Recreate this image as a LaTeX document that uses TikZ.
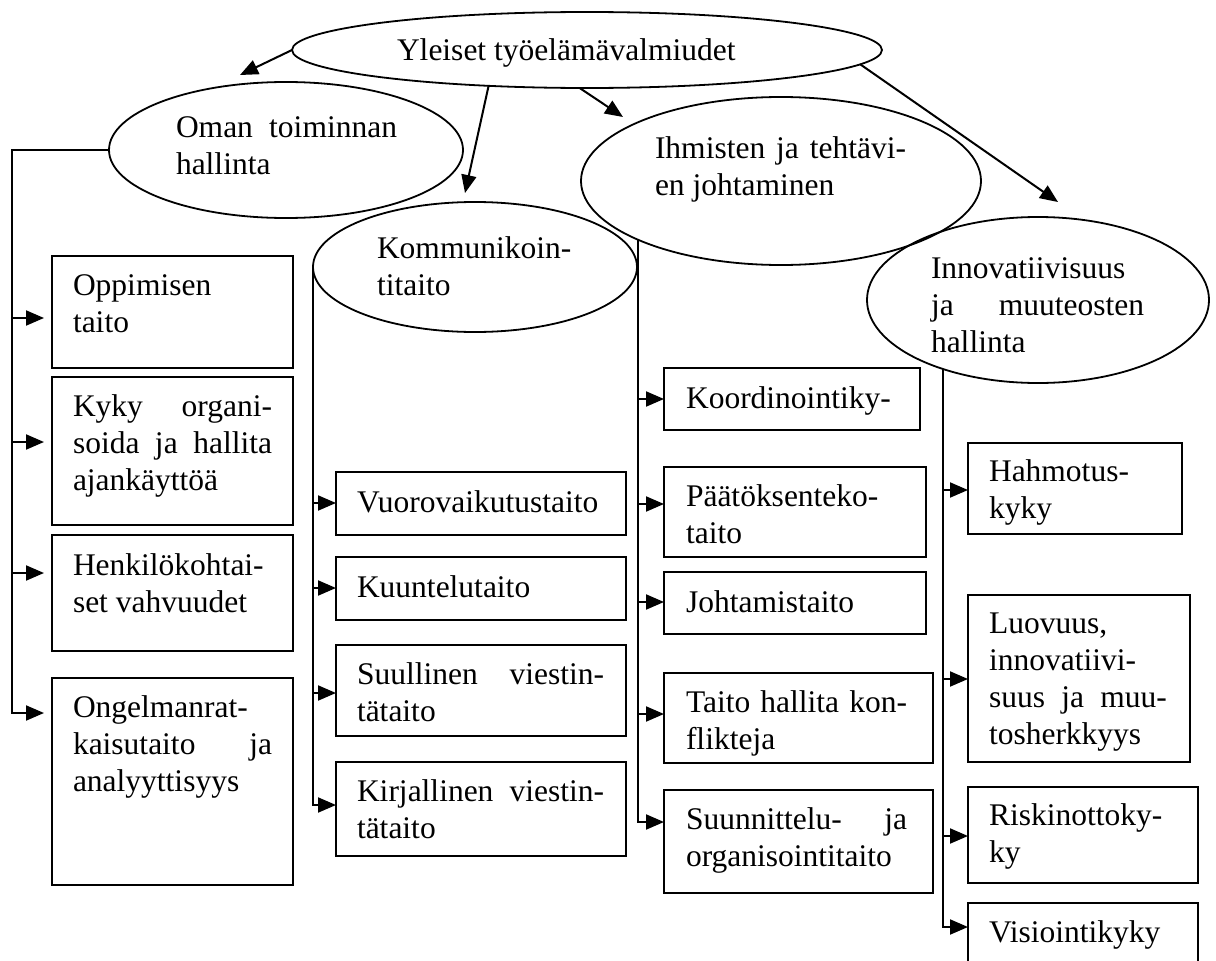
\documentclass[tikz,border=0pt]{standalone}
\usepackage{fontspec}
\setmainfont{Liberation Serif}
\usetikzlibrary{shapes.geometric,arrows.meta}
\newcommand\jl[2]{\leavevmode\hbox to #1{#2}}
\tikzset{
  ell/.style={draw, ellipse, line width=1.8pt, inner sep=0pt, outer sep=0pt},
  box/.style={draw, rectangle, line width=2.4pt, inner sep=0pt, outer sep=0pt, anchor=north west},
  txt/.style={anchor=base west, inner sep=0pt, outer sep=0pt, align=flush left,
              font=\fontsize{31.5}{37.3}\selectfont,
              execute at begin node={\spaceskip=0pt\xspaceskip=0pt\relax}},
  conn/.style={line width=2pt},
  arr/.style={conn, -{Triangle[length=18pt,width=15pt]}},
}
\begin{document}
\begin{tikzpicture}[x=1pt,y=-1pt]
\clip (0,0) rectangle (1216,961);
\fill[white] (0,0) rectangle (1216,961);

% ellipses
\node[ell, minimum width=590pt, minimum height=76pt] (top) at (587,50) {};
\node[ell, minimum width=354pt, minimum height=136pt] (oman) at (286,150) {};
\node[ell, minimum width=324pt, minimum height=130pt] (komm) at (475,267) {};
\node[ell, minimum width=400pt, minimum height=168pt] (ihm) at (781,181) {};
\node[ell, minimum width=342pt, minimum height=166pt] (inn) at (1038,300) {};

\node[txt] (ttop) at (397,60) {Yleiset työelämävalmiudet};
\node[txt, text width=228pt] (toman) at (176,137) {\jl{221pt}{Oman\hfill toiminnan}\\hallinta};
\node[txt, text width=200pt] (tkomm) at (377,258) {Kommunikoin-\\titaito};
\node[txt, text width=255pt] (tihm) at (655,158) {\jl{251pt}{Ihmisten\hfill ja\hfill tehtävi-}\\en johtaminen};
\node[txt, text width=213pt] (tinn) at (931,278) {Innovatiivisuus\\\jl{213pt}{ja\hfill muuteosten}\\hallinta};

% boxes: left column
\node[box, minimum width=241pt, minimum height=112pt] (b1) at (52,256) {};
\node[box, minimum width=241pt, minimum height=148pt] (b2) at (52,377) {};
\node[box, minimum width=241pt, minimum height=116pt] (b3) at (52,535) {};
\node[box, minimum width=241pt, minimum height=207pt] (b4) at (52,678) {};
% middle column
\node[box, minimum width=290pt, minimum height=63pt] (c1) at (336,472) {};
\node[box, minimum width=290pt, minimum height=63pt] (c2) at (336,557) {};
\node[box, minimum width=290pt, minimum height=91pt] (c3) at (336,645) {};
\node[box, minimum width=290pt, minimum height=94pt] (c4) at (336,762) {};
% third column
\node[box, minimum width=256pt, minimum height=62pt] (d1) at (664,368) {};
\node[box, minimum width=262pt, minimum height=90pt] (d2) at (664,467) {};
\node[box, minimum width=262pt, minimum height=62pt] (d3) at (664,572) {};
\node[box, minimum width=269pt, minimum height=90pt] (d4) at (664,673) {};
\node[box, minimum width=269pt, minimum height=103pt] (d5) at (664,790) {};
% right column
\node[box, minimum width=214pt, minimum height=91pt] (e1) at (968,443) {};
\node[box, minimum width=222pt, minimum height=167pt] (e2) at (968,595) {};
\node[box, minimum width=230pt, minimum height=96pt] (e3) at (968,787) {};
\node[box, minimum width=230pt, minimum height=70pt] (e4) at (968,903) {};

% box texts
\node[txt, text width=199pt] at ([xshift=21pt,yshift=-39pt]b1.north west) {Oppimisen\\taito};
\node[txt, text width=199pt] at ([xshift=21pt,yshift=-39pt]b2.north west) {\jl{199pt}{Kyky\hfill organi-}\\\jl{199pt}{soida\hfill ja\hfill hallita}\\ajankäyttöä};
\node[txt, text width=199pt] at ([xshift=21pt,yshift=-40pt]b3.north west) {Henkilökohtai-\\set vahvuudet};
\node[txt, text width=199pt] at ([xshift=21pt,yshift=-39pt]b4.north west) {Ongelmanrat-\\\jl{199pt}{kaisutaito\hfill ja}\\analyyttisyys};

\node[txt, text width=247pt] at ([xshift=21pt,yshift=-40pt]c1.north west) {Vuorovaikutustaito};
\node[txt, text width=247pt] at ([xshift=21pt,yshift=-40pt]c2.north west) {Kuuntelutaito};
\node[txt, text width=247pt] at ([xshift=21pt,yshift=-39pt]c3.north west) {\jl{247pt}{Suullinen\hfill viestin-}\\tätaito};
\node[txt, text width=247pt] at ([xshift=21pt,yshift=-39pt]c4.north west) {\jl{247pt}{Kirjallinen\hfill viestin-}\\tätaito};

\node[txt, text width=225pt] at ([xshift=22pt,yshift=-40pt]d1.north west) {Koordinointiky-};
\node[txt, text width=225pt] at ([xshift=22pt,yshift=-39pt]d2.north west) {Päätöksenteko-\\taito};
\node[txt, text width=225pt] at ([xshift=22pt,yshift=-40pt]d3.north west) {Johtamistaito};
\node[txt, text width=225pt] at ([xshift=22pt,yshift=-39pt]d4.north west) {\jl{221pt}{Taito\hfill hallita\hfill kon-}\\flikteja};
\node[txt, text width=225pt] at ([xshift=22pt,yshift=-39pt]d5.north west) {\jl{221pt}{Suunnittelu-\hfill ja}\\organisointitaito};

\node[txt, text width=172pt] at ([xshift=21pt,yshift=-38pt]e1.north west) {Hahmotus-\\kyky};
\node[txt, text width=180pt] at ([xshift=21pt,yshift=-38pt]e2.north west) {Luovuus,\\innovatiivi-\\\jl{178pt}{suus\hfill ja\hfill muu-}\\tosherkkyys};
\node[txt, text width=188pt] at ([xshift=21pt,yshift=-38pt]e3.north west) {Riskinottoky-\\ky};
\node[txt, text width=188pt] at ([xshift=21pt,yshift=-39pt]e4.north west) {Visiointikyky};

% arrows from the top ellipse
\coordinate (p1) at (240,75);
\coordinate (p2) at (465,193);
\coordinate (p3) at (623,117);
\coordinate (p4) at (1058,202);
\draw[arr] (top.west) -- (p1);
\draw[arr] (top.200.4) -- (p2);
\draw[arr] (top.259.6) -- (p3);
\draw[arr] (top.357.5) -- (p4);

% trunk 1 (Oman toiminnan hallinta)
\coordinate (t1) at (12,150);
\coordinate (a11) at (12,318);
\coordinate (a12) at (12,442);
\coordinate (a13) at (12,573);
\coordinate (a14) at (12,713);
\draw[arr, shorten >=8pt] (oman.west) -- (t1) -- (a14) -- (a14 -| b4.west);
\draw[arr, shorten >=8pt] (a11) -- (a11 -| b1.west);
\draw[arr, shorten >=8pt] (a12) -- (a12 -| b2.west);
\draw[arr, shorten >=8pt] (a13) -- (a13 -| b3.west);

% trunk 2 (Kommunikointitaito)
\coordinate (a21) at (313,503);
\coordinate (a22) at (313,588);
\coordinate (a23) at (313,693);
\coordinate (a24) at (313,805);
\draw[arr] (komm.west) -- (a24) -- (a24 -| c4.west);
\draw[arr] (a21) -- (a21 -| c1.west);
\draw[arr] (a22) -- (a22 -| c2.west);
\draw[arr] (a23) -- (a23 -| c3.west);

% trunk 3 (Ihmisten ja tehtavien johtaminen)
\coordinate (a31) at (638,399);
\coordinate (a32) at (638,504);
\coordinate (a33) at (638,602);
\coordinate (a34) at (638,714);
\coordinate (a35) at (638,822);
\draw[arr] (a35 |- ihm.202.4) -- (a35) -- (a35 -| d5.west);
\draw[arr] (a31) -- (a31 -| d1.west);
\draw[arr] (a32) -- (a32 -| d2.west);
\draw[arr] (a33) -- (a33 -| d3.west);
\draw[arr] (a34) -- (a34 -| d4.west);

% trunk 4 (Innovatiivisuus)
\coordinate (a41) at (943,490);
\coordinate (a42) at (943,679);
\coordinate (a43) at (943,836);
\coordinate (a44) at (943,927);
\draw[arr] (a44 |- inn.216) -- (a44) -- (a44 -| e4.west);
\draw[arr] (a41) -- (a41 -| e1.west);
\draw[arr] (a42) -- (a42 -| e2.west);
\draw[arr] (a43) -- (a43 -| e3.west);
\end{tikzpicture}
\end{document}
